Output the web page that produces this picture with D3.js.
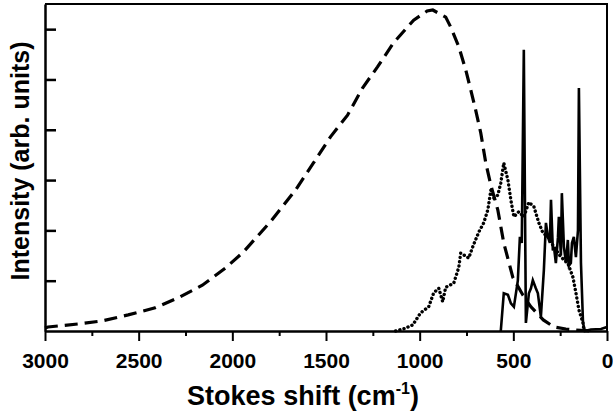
<!DOCTYPE html>
<html>
<head>
<meta charset="utf-8">
<script src="https://cdn.jsdelivr.net/npm/d3@7"></script>
<style>
  body { margin: 0; background: #fff; }
  svg text { font-family: "Liberation Sans", Arial, sans-serif; font-weight: bold; fill: #000; }
</style>
</head>
<body>
<div id="chart"></div>
<script>
// Stokes shift (cm-1) vs intensity
var dashedData = [
    [3000, 0.06], [2984, 0.08], [2824, 0.14], [2695, 0.20], [2556, 0.32], [2412, 0.46],
    [2289, 0.66], [2160, 0.91], [2037, 1.25], [1941, 1.57], [1797, 2.17], [1663, 2.80],
    [1567, 3.34], [1476, 3.86], [1385, 4.29], [1305, 4.83], [1225, 5.25], [1139, 5.73],
    [1032, 6.18], [960, 6.36], [930, 6.38], [861, 6.24], [834, 6.04], [791, 5.65],
    [754, 5.19], [727, 4.79], [701, 4.39], [674, 3.94], [647, 3.34], [620, 2.90],
    [583, 2.41], [551, 1.75], [503, 1.07], [450, 0.72], [406, 0.48], [340, 0.22],
    [283, 0.08], [220, 0.04], [166, 0.02], [86, 0.0]
];

var dottedData = [
    [1128, 0.0], [1080, 0.05], [1037, 0.12], [995, 0.36], [952, 0.48], [925, 0.76],
    [898, 0.85], [877, 0.58], [861, 0.87], [818, 0.95], [791, 1.27], [781, 1.55],
    [738, 1.45], [717, 1.67], [684, 1.97], [658, 2.15], [636, 2.41], [620, 2.80],
    [604, 2.64], [583, 2.70], [567, 2.94], [551, 3.34], [529, 3.00], [513, 2.60],
    [497, 2.27], [471, 2.37], [444, 2.27], [417, 2.56], [390, 2.47], [364, 2.15],
    [342, 1.95], [315, 1.87], [283, 1.67], [246, 1.47], [209, 1.35], [182, 1.07],
    [166, 0.76], [150, 0.42], [128, 0.16], [123, 0.0]
];

var solidData = [
    [567, 0.0], [551, 0.75], [529, 0.72], [513, 0.55], [497, 0.48], [476, 1.0],
    [465, 1.87], [455, 1.75], [444, 5.59], [433, 0.16], [417, 0.75], [406, 0.85],
    [396, 1.01], [380, 0.85], [369, 0.75], [353, 0.28], [337, 1.21], [326, 2.15],
    [315, 1.87], [305, 1.75], [299, 2.61], [289, 1.60], [283, 1.67], [273, 1.35],
    [262, 1.85], [257, 2.27], [246, 1.50], [241, 2.74], [230, 1.67], [219, 1.35],
    [209, 1.81], [203, 1.30], [193, 1.35], [187, 1.75], [177, 1.87], [166, 1.47],
    [155, 2.00], [150, 4.83], [139, 1.35], [128, 0.16], [118, 0.0], [86, 0.03],
    [32, 0.04], [0, 0.08]
];

var majorTicks = [3000, 2500, 2000, 1500, 1000, 500, 0];
var minorTicks = [2750, 2250, 1750, 1250, 750, 250];
var yTicks = [1, 2, 3, 4, 5, 6];

var width = 613, height = 420;
var margin = {top: 4, right: 6, bottom: 89, left: 45};

var svg = d3.select("#chart").append("svg")
    .attr("width", width)
    .attr("height", height);

var xScale = d3.scaleLinear()
    .domain([3000, 0])
    .range([margin.left, width - margin.right]);

var yScale = d3.scaleLinear()
    .domain([0, 6.5])
    .range([height - margin.bottom, margin.top]);

var line = d3.line()
    .x(function(d) { return xScale(d[0]); })
    .y(function(d) { return yScale(d[1]); });

//frame on top and right
svg.append("path")
    .attr("d", "M" + margin.left + "," + margin.top + "H" + (width - margin.right) + "V" + (height - margin.bottom))
    .attr("fill", "none")
    .attr("stroke", "#000")
    .attr("stroke-width", 2);

// minor x ticks
svg.append("g")
    .attr("transform", "translate(0," + (height - margin.bottom) + ")")
    .call(d3.axisBottom(xScale).tickValues(minorTicks).tickSize(5).tickSizeOuter(0).tickFormat(""))
    .call(function(g) { g.select(".domain").remove(); })
    .selectAll("line").attr("stroke-width", 2);

// major x ticks with labels
var xAxis = svg.append("g")
    .attr("transform", "translate(0," + (height - margin.bottom) + ")")
    .call(d3.axisBottom(xScale).tickValues(majorTicks).tickSize(10).tickSizeOuter(0).tickPadding(12)
        .tickFormat(d3.format("d")));
xAxis.selectAll("line").attr("stroke-width", 2);
xAxis.select(".domain").attr("stroke-width", 2.5);
xAxis.selectAll("text")
    .style("font-size", "21px")
    .style("font-family", "'Liberation Sans', Arial, sans-serif")
    .style("font-weight", "bold");

// y ticks point inward, no labels
var yAxis = svg.append("g")
    .attr("transform", "translate(" + margin.left + ",0)")
    .call(d3.axisRight(yScale).tickValues(yTicks).tickSize(11).tickSizeOuter(0).tickFormat(""));
yAxis.selectAll("line").attr("stroke-width", 2.5);
yAxis.select(".domain").attr("stroke-width", 2.5);

// curves
svg.append("path")
    .datum(dashedData)
    .attr("d", line)
    .attr("fill", "none")
    .attr("stroke", "#000")
    .attr("stroke-width", 3.2)
    .attr("stroke-dasharray", "13,7");

svg.append("path")
    .datum(dottedData)
    .attr("d", line)
    .attr("fill", "none")
    .attr("stroke", "#000")
    .attr("stroke-width", 3.4)
    .attr("stroke-linecap", "round")
    .attr("stroke-dasharray", "0.1,4.2");

svg.append("path")
    .datum(solidData)
    .attr("d", line)
    .attr("fill", "none")
    .attr("stroke", "#000")
    .attr("stroke-width", 2.6)
    .attr("stroke-linejoin", "miter");

// axis titles
var xTitle = svg.append("text")
    .attr("x", 303)
    .attr("y", 405)
    .attr("text-anchor", "middle")
    .style("font-size", "27px");
xTitle.append("tspan").text("Stokes shift (cm");
xTitle.append("tspan").attr("dy", -11).style("font-size", "16px").text("-1");
xTitle.append("tspan").attr("dy", 11).text(")");

svg.append("text")
    .attr("transform", "translate(29,161) rotate(-90)")
    .attr("text-anchor", "middle")
    .style("font-size", "25px")
    .text("Intensity (arb. units)");
</script>
</body>
</html>
